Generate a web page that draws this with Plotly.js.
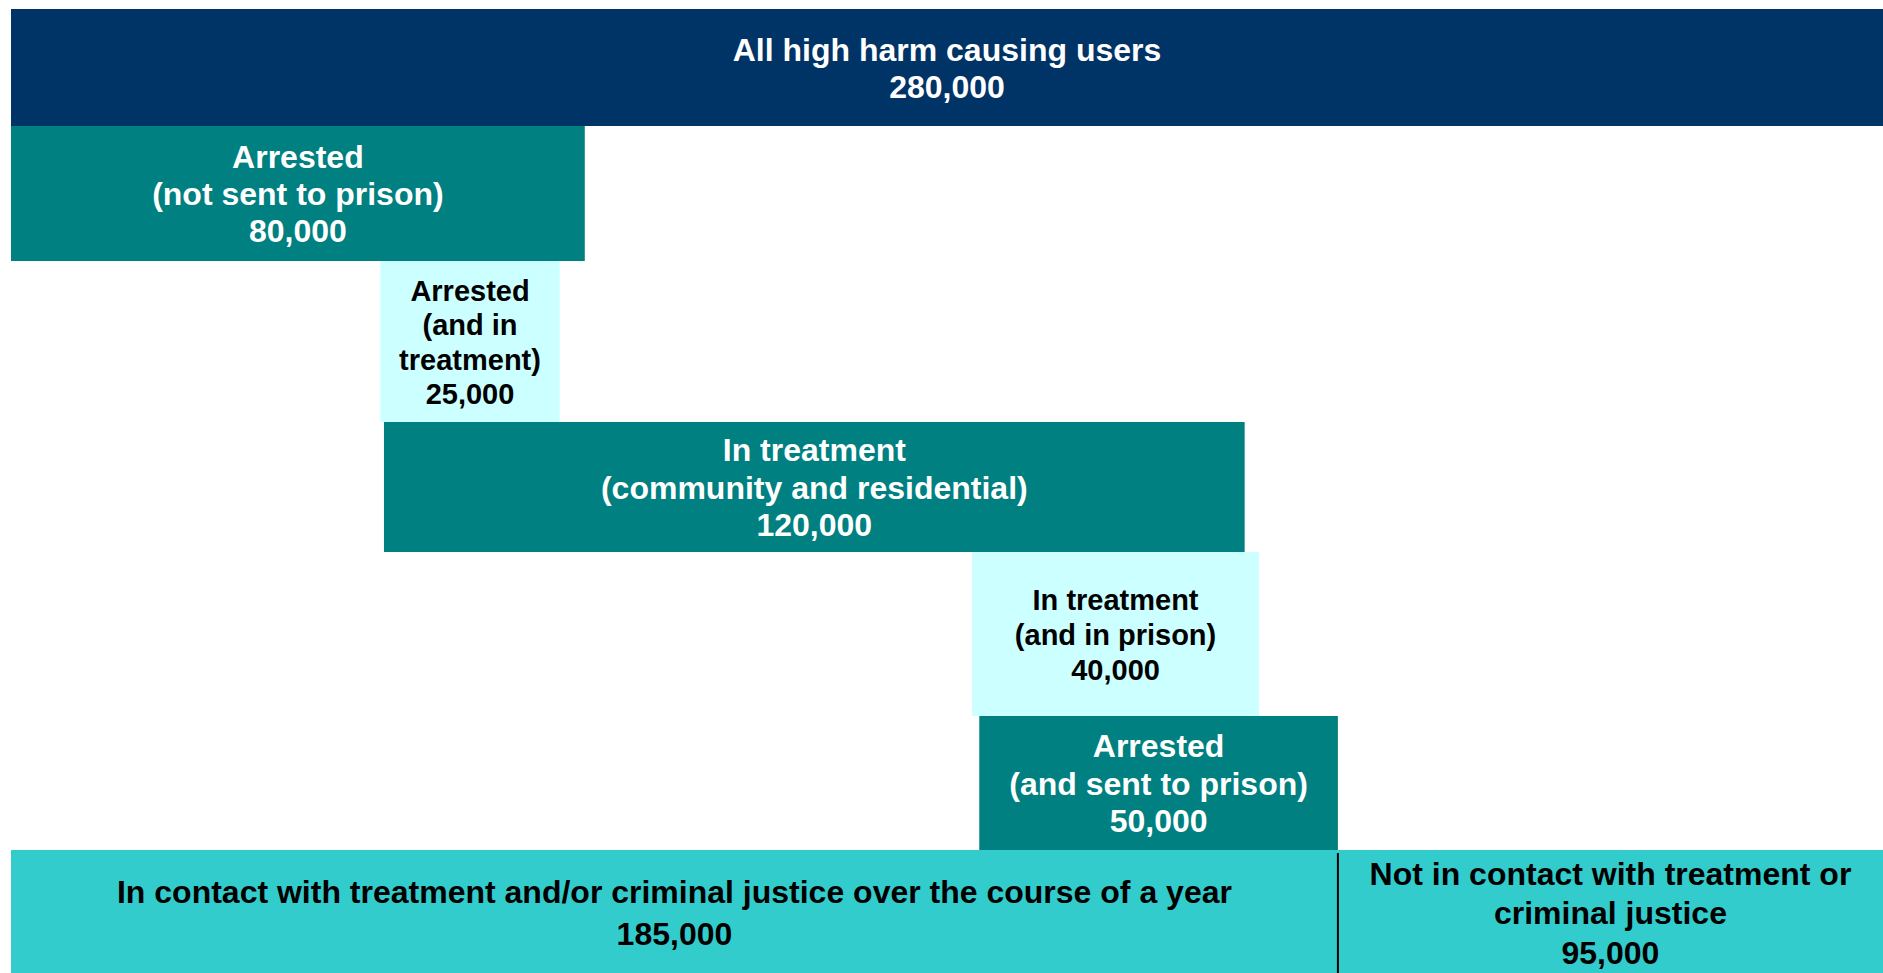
<!DOCTYPE html>
<html>
<head>
<meta charset="utf-8">
<script src="https://cdn.plot.ly/plotly-3.0.1.min.js"></script>
<style>
    html, body { margin: 0; padding: 0; background: #ffffff; }
    #usersFlow { width: 1883px; height: 973px; }
</style>
</head>
<body>
<div id="usersFlow"></div>
<script>
const config = {
    responsive: false,
    displayModeBar: false,
    staticPlot: true
}

// Nome de cada bloco (uma linha por <br>)
const labels = [
    'All high harm causing users',
    'Arrested<br>(not sent to prison)',
    'Arrested<br>(and in<br>treatment)',
    'In treatment<br>(community and residential)',
    'In treatment<br>(and in prison)',
    'Arrested<br>(and sent to prison)',
    'In contact with treatment and/or criminal justice over the course of a year',
    'Not in contact with treatment or<br>criminal justice'
];

// Quantidade de usuarios em cada bloco
const values = [280000, 80000, 25000, 120000, 40000, 50000, 185000, 95000];

// Onde cada bloco começa no eixo x
const starts = [0, 0, 51500, 52000, 134000, 135000, 0, 185000];

// Linha de cada bloco (de cima para baixo)
const rows = [0, 1, 2, 3, 4, 5, 6, 6];

// Aparência: limites das linhas em pixels, cores, fontes e espaçamento entre linhas de texto
const rowTop = [9, 126, 261, 422, 552, 716, 850];
const rowBottom = [126, 261, 422, 552, 716, 850, 975];
const barColors = ['#003366', '#008080', '#ccffff', '#008080', '#ccffff', '#008080', '#33cccc', '#33cccc'];
const textColors = ['#ffffff', '#ffffff', '#000000', '#ffffff', '#000000', '#ffffff', '#000000', '#000000'];
const textSizes = [32, 32, 29, 32, 29, 32, 32, 32];
const lineGaps = [37, 37, 34.5, 37.5, 35, 37.5, 42, 39.5];
const textShift = 3.5;
const xMax = 261000;

function graficoFluxo() {
    // Centro e altura de cada linha
    var yCenter = rows.map(r => (rowTop[r] + rowBottom[r]) / 2);
    var yHeight = rows.map(r => rowBottom[r] - rowTop[r]);

    var barras = {
        type: 'bar',
        orientation: 'h',
        x: values,
        base: starts,
        y: yCenter,
        width: yHeight,
        marker: {
            color: barColors,
            line: { width: 0 }
        },
        textposition: 'none',
        hoverinfo: 'skip'
    }

    // Texto de cada bloco, uma linha de cada vez, no meio da parte visível
    var tx = [], ty = [], tt = [], tc = [], ts = [];
    labels.forEach((label, i) => {
        var lines = label.split('<br>').concat(values[i].toLocaleString('en-US'));
        var n = lines.length;
        var cx = (starts[i] + Math.min(starts[i] + values[i], xMax)) / 2;
        lines.forEach((line, k) => {
            tx.push(cx);
            ty.push(yCenter[i] + textShift + (k - (n - 1) / 2) * lineGaps[i]);
            tt.push('<b>' + line + '</b>');
            tc.push(textColors[i]);
            ts.push(textSizes[i]);
        });
    });

    var textos = {
        type: 'scatter',
        mode: 'text',
        x: tx,
        y: ty,
        text: tt,
        textposition: 'middle center',
        textfont: {
            family: '"Liberation Sans", Arial, sans-serif',
            color: tc,
            size: ts
        },
        cliponaxis: false,
        hoverinfo: 'skip'
    }

    // Linha que separa "em contato" de "sem contato"
    var divisa = starts[7];

    const layout = {
        width: 1883,
        height: 973,
        margin: { l: 11, r: 0, t: 0, b: 0, pad: 0 },
        paper_bgcolor: '#ffffff',
        plot_bgcolor: '#ffffff',
        showlegend: false,
        barmode: 'overlay',
        xaxis: {
            range: [0, xMax],
            visible: false,
            fixedrange: true
        },
        yaxis: {
            range: [973, 0],
            visible: false,
            fixedrange: true
        },
        shapes: [{
            type: 'line',
            xref: 'x',
            yref: 'y',
            x0: divisa,
            x1: divisa,
            y0: 853,
            y1: 973,
            line: { color: '#000000', width: 2 }
        }]
    };

    Plotly.newPlot('usersFlow', [barras, textos], layout, config);
}

graficoFluxo();
</script>
</body>
</html>
